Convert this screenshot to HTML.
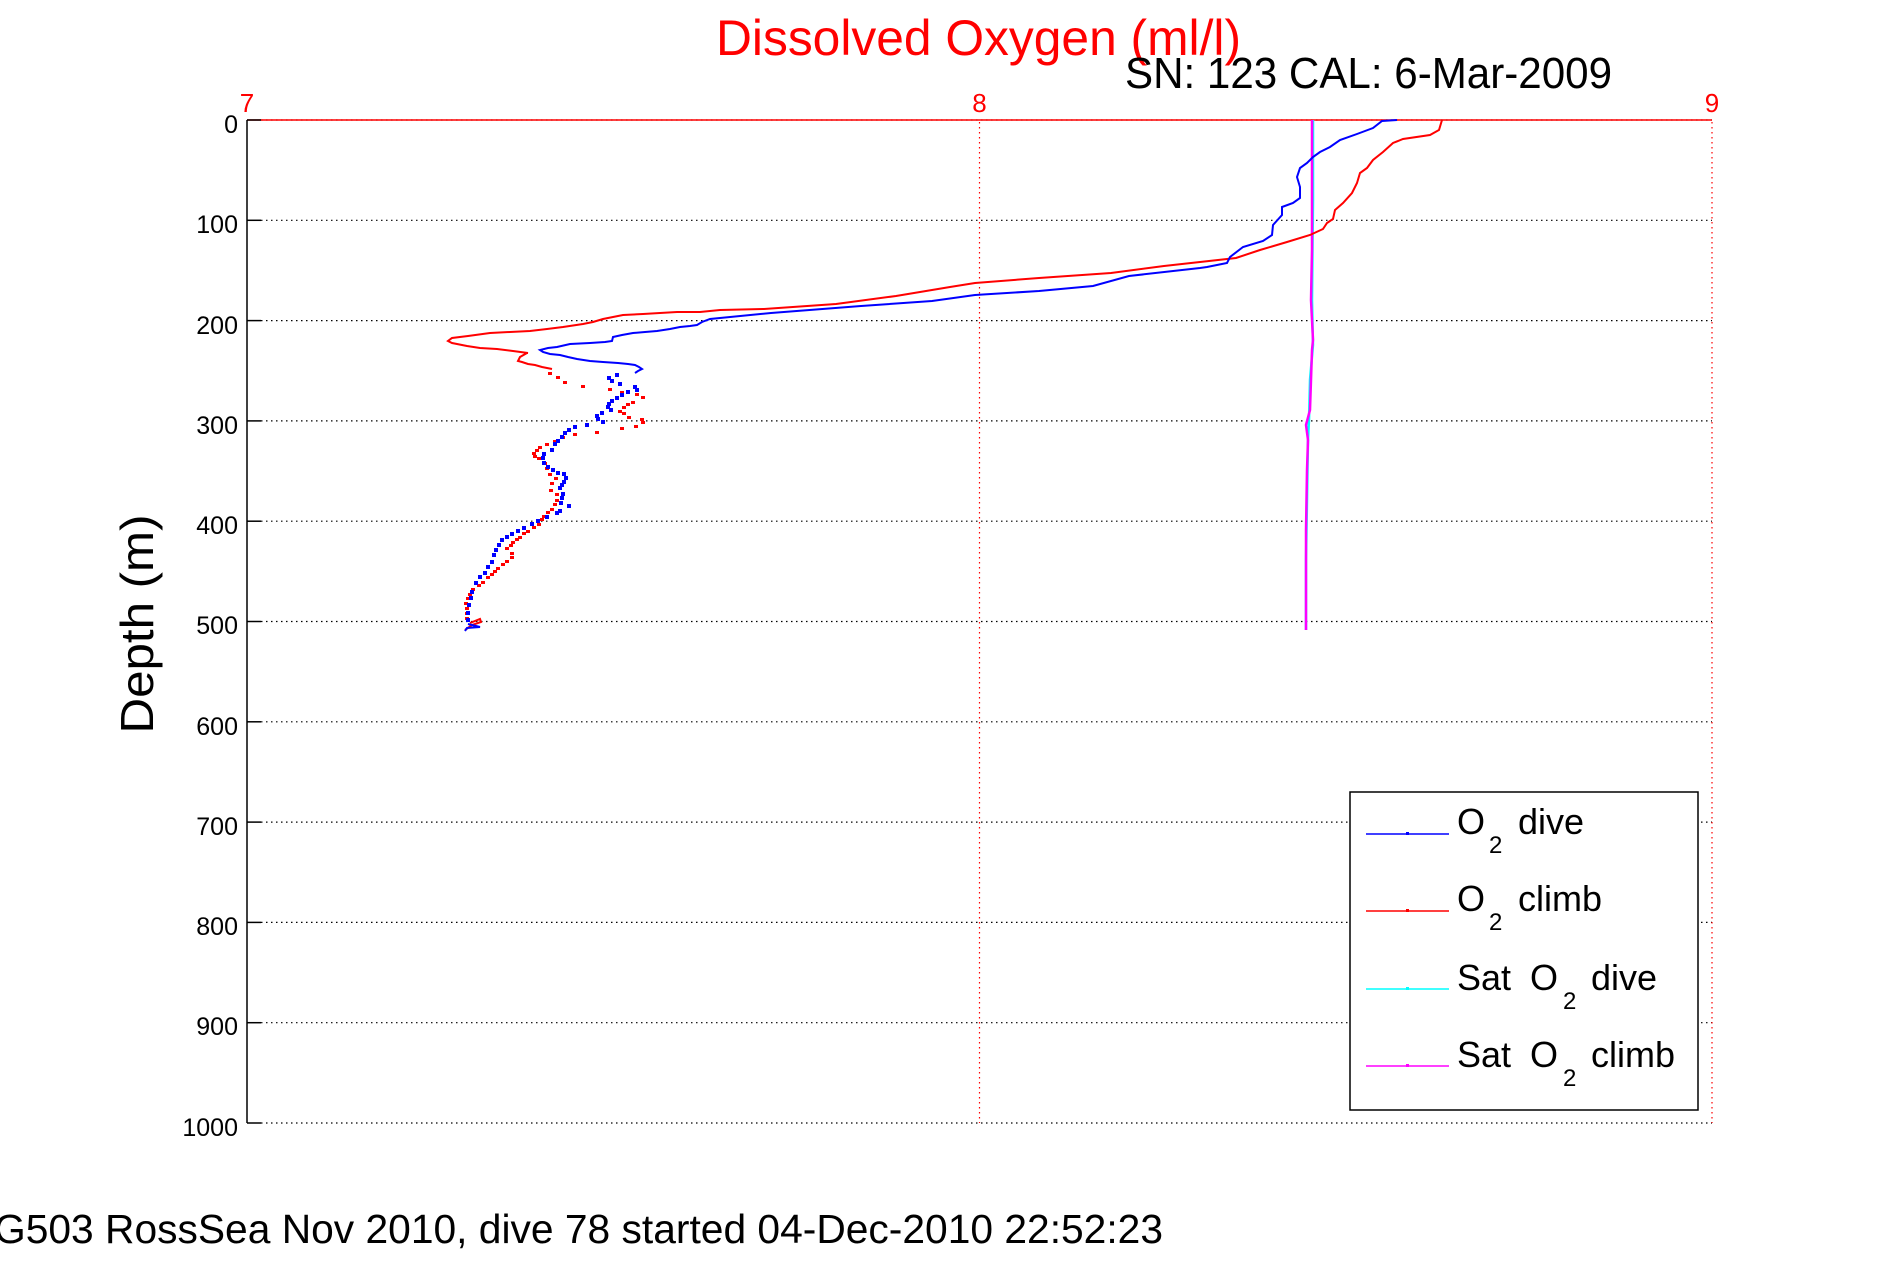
<!DOCTYPE html>
<html><head><meta charset="utf-8"><style>
html,body{margin:0;padding:0;background:#fff;}
svg{display:block;}
text{font-family:"Liberation Sans",Arial,sans-serif;}
</style></head><body>
<svg width="1891" height="1262" viewBox="0 0 1891 1262" xmlns="http://www.w3.org/2000/svg">
<rect width="1891" height="1262" fill="#fff"/>
<!-- grid -->
<g stroke="#000" stroke-width="1.2" stroke-dasharray="1.5,3.5">
<line x1="261" y1="220.3" x2="1712" y2="220.3"/>
<line x1="261" y1="320.6" x2="1712" y2="320.6"/>
<line x1="261" y1="420.9" x2="1712" y2="420.9"/>
<line x1="261" y1="521.2" x2="1712" y2="521.2"/>
<line x1="261" y1="621.5" x2="1712" y2="621.5"/>
<line x1="261" y1="721.8" x2="1712" y2="721.8"/>
<line x1="261" y1="822.1" x2="1712" y2="822.1"/>
<line x1="261" y1="922.4" x2="1712" y2="922.4"/>
<line x1="261" y1="1022.7" x2="1712" y2="1022.7"/>
<line x1="261" y1="1123" x2="1712" y2="1123"/>
<line x1="261" y1="120" x2="1712" y2="120"/>
</g>
<g stroke="#f00" stroke-width="1.2" stroke-dasharray="1.5,3.5">
<line x1="979.5" y1="122" x2="979.5" y2="1123"/>
<line x1="1712" y1="122" x2="1712" y2="1123"/>
</g>
<!-- axes -->
<line x1="247" y1="120" x2="1712" y2="120" stroke="#f00" stroke-width="1.5"/>
<line x1="247" y1="120" x2="247" y2="1123" stroke="#000" stroke-width="1.5"/>
<g stroke="#000" stroke-width="1.5">
<line x1="247" y1="120" x2="261" y2="120"/><line x1="247" y1="220.3" x2="261" y2="220.3"/>
<line x1="247" y1="320.6" x2="261" y2="320.6"/><line x1="247" y1="420.9" x2="261" y2="420.9"/>
<line x1="247" y1="521.2" x2="261" y2="521.2"/><line x1="247" y1="621.5" x2="261" y2="621.5"/>
<line x1="247" y1="721.8" x2="261" y2="721.8"/><line x1="247" y1="822.1" x2="261" y2="822.1"/>
<line x1="247" y1="922.4" x2="261" y2="922.4"/><line x1="247" y1="1022.7" x2="261" y2="1022.7"/>
<line x1="247" y1="1123" x2="261" y2="1123"/>
</g>
<!-- y tick labels -->
<g font-size="25" text-anchor="end" fill="#000">
<text x="238" y="133">0</text><text x="238" y="233">100</text><text x="238" y="334">200</text>
<text x="238" y="434">300</text><text x="238" y="534">400</text><text x="238" y="634">500</text>
<text x="238" y="735">600</text><text x="238" y="835">700</text><text x="238" y="935">800</text>
<text x="238" y="1035">900</text><text x="238" y="1136">1000</text>
</g>
<g font-size="26" text-anchor="middle" fill="#f00">
<text x="247" y="112">7</text><text x="979.5" y="112">8</text><text x="1712" y="112">9</text>
</g>
<!-- titles -->
<text x="716" y="55" font-size="50" fill="#f00" textLength="525" lengthAdjust="spacingAndGlyphs">Dissolved Oxygen (ml/l)</text>
<text x="1125" y="88" font-size="44" fill="#000" textLength="487" lengthAdjust="spacingAndGlyphs">SN: 123  CAL: 6-Mar-2009</text>
<text transform="translate(153,624) rotate(-90)" font-size="46" text-anchor="middle" fill="#000" textLength="219" lengthAdjust="spacingAndGlyphs">Depth (m)</text>
<text x="-6" y="1243" font-size="41" fill="#000" textLength="1169" lengthAdjust="spacingAndGlyphs">G503 RossSea Nov 2010, dive 78 started 04-Dec-2010 22:52:23</text>

<!-- sat lines -->
<polyline fill="none" stroke="#0ff" stroke-width="2.5" points="1313,120 1313,200 1312,300 1313,345 1310,380 1309,420 1308,440 1307,500 1306,560 1306,630"/>
<polyline fill="none" stroke="#f0f" stroke-width="2.5" points="1312,120 1312,250 1311,300 1313,340 1312,350 1311,380 1310,410 1306,425 1308,440 1307,470 1306,530 1306,580 1306,630"/>

<!-- red climb -->
<polyline fill="none" stroke="#f00" stroke-width="2" points="1442,120 1439,130 1430,135 1403,139 1393,143 1383,152 1373,160 1367,168 1360,173 1357,183 1352,193 1343,203 1335,210 1333,219 1327,223 1323,229 1310,235 1287,242 1260,250 1236,258 1164,266 1111,273 1039,278 975,283 950,287 896,296 836,304 764,309 720,310 700,312 677,312 643,314 623,315 613,317 603,319 593,322 583,324 563,327 547,329 530,331 510,332 490,333 468,336 452,338 448,341 452,343 467,346 480,348 497,349 513,351 528,353 527,353 520,357 518,361 522,362 528,364 535,365 542,367 552,369"/>
<g fill="#f00">
<rect x="548" y="372" width="4" height="3"/><rect x="556" y="376" width="4" height="3"/><rect x="563" y="381" width="4" height="3"/><rect x="581" y="385" width="4" height="3"/><rect x="608" y="388" width="4" height="3"/><rect x="620" y="391" width="4" height="3"/><rect x="635" y="393" width="4" height="3"/><rect x="641" y="396" width="4" height="3"/><rect x="631" y="401" width="4" height="3"/><rect x="626" y="403" width="4" height="3"/><rect x="622" y="406" width="4" height="3"/><rect x="618" y="410" width="4" height="3"/><rect x="622" y="412" width="4" height="3"/><rect x="627" y="416" width="4" height="3"/><rect x="640" y="418" width="4" height="3"/><rect x="641" y="421" width="4" height="3"/><rect x="634" y="425" width="4" height="3"/><rect x="620" y="427" width="4" height="3"/><rect x="595" y="431" width="4" height="3"/><rect x="573" y="433" width="4" height="3"/><rect x="561" y="436" width="4" height="3"/><rect x="553" y="440" width="4" height="3"/><rect x="545" y="443" width="4" height="3"/><rect x="538" y="446" width="4" height="3"/><rect x="535" y="449" width="4" height="3"/><rect x="532" y="452" width="4" height="3"/><rect x="533" y="455" width="4" height="3"/><rect x="537" y="457" width="4" height="3"/><rect x="543" y="462" width="4" height="3"/><rect x="545" y="467" width="4" height="3"/><rect x="548" y="473" width="4" height="3"/><rect x="554" y="477" width="4" height="3"/><rect x="550" y="482" width="4" height="3"/><rect x="549" y="489" width="4" height="3"/><rect x="555" y="493" width="4" height="3"/><rect x="555" y="499" width="4" height="3"/><rect x="553" y="503" width="4" height="3"/><rect x="550" y="508" width="4" height="3"/><rect x="546" y="511" width="4" height="3"/><rect x="542" y="515" width="4" height="3"/><rect x="540" y="518" width="4" height="3"/><rect x="537" y="523" width="4" height="3"/><rect x="532" y="526" width="4" height="3"/><rect x="526" y="530" width="4" height="3"/><rect x="522" y="532" width="4" height="3"/><rect x="518" y="536" width="4" height="3"/><rect x="515" y="538" width="4" height="3"/><rect x="511" y="541" width="4" height="3"/><rect x="509" y="544" width="4" height="3"/><rect x="505" y="547" width="4" height="3"/><rect x="510" y="552" width="4" height="3"/><rect x="510" y="556" width="4" height="3"/><rect x="505" y="560" width="4" height="3"/><rect x="501" y="563" width="4" height="3"/><rect x="496" y="567" width="4" height="3"/><rect x="493" y="570" width="4" height="3"/><rect x="490" y="573" width="4" height="3"/><rect x="486" y="576" width="4" height="3"/><rect x="481" y="581" width="4" height="3"/><rect x="477" y="584" width="4" height="3"/><rect x="471" y="588" width="4" height="3"/><rect x="468" y="593" width="4" height="3"/><rect x="466" y="597" width="4" height="3"/><rect x="464" y="602" width="4" height="3"/><rect x="465" y="607" width="4" height="3"/><rect x="465" y="612" width="4" height="3"/><rect x="465" y="617" width="4" height="3"/>
</g>
<polyline fill="none" stroke="#f00" stroke-width="2" points="470,623 480,619 481,622 472,625 465,630"/>

<!-- blue dive -->
<polyline fill="none" stroke="#00f" stroke-width="2" points="1397,120 1382,121 1373,128 1357,134 1340,140 1330,147 1320,152 1313,157 1307,163 1300,168 1297,177 1300,187 1300,198 1293,203 1282,207 1282,215 1273,225 1272,235 1263,241 1243,247 1230,257 1227,263 1207,267 1200,268 1129,276 1093,286 1039,291 975,295 932,301 861,306 771,313 720,318 710,319 702,322 697,325 690,326 680,327 670,329 657,331 645,332 633,333 622,335 613,337 612,341 605,342 590,343 570,344 557,347 548,348 540,350 543,352 550,354 560,355 568,357 577,359 590,361 603,362 618,363 628,364 635,365 639,367 642,369 638,371 635,373"/>
<g fill="#00f">
<rect x="615" y="373" width="4" height="4"/><rect x="607" y="376" width="4" height="4"/><rect x="610" y="379" width="4" height="4"/><rect x="618" y="382" width="4" height="4"/><rect x="633" y="385" width="4" height="4"/><rect x="635" y="388" width="4" height="4"/><rect x="626" y="390" width="4" height="4"/><rect x="620" y="393" width="4" height="4"/><rect x="615" y="396" width="4" height="4"/><rect x="610" y="399" width="4" height="4"/><rect x="607" y="402" width="4" height="4"/><rect x="606" y="405" width="4" height="4"/><rect x="609" y="408" width="4" height="4"/><rect x="600" y="411" width="4" height="4"/><rect x="595" y="414" width="4" height="4"/><rect x="596" y="417" width="4" height="4"/><rect x="601" y="420" width="4" height="4"/><rect x="585" y="423" width="4" height="4"/><rect x="573" y="425" width="4" height="4"/><rect x="567" y="428" width="4" height="4"/><rect x="563" y="431" width="4" height="4"/><rect x="560" y="435" width="4" height="4"/><rect x="556" y="439" width="4" height="4"/><rect x="553" y="442" width="4" height="4"/><rect x="550" y="448" width="4" height="4"/><rect x="542" y="452" width="4" height="4"/><rect x="541" y="456" width="4" height="4"/><rect x="542" y="461" width="4" height="4"/><rect x="546" y="465" width="4" height="4"/><rect x="551" y="468" width="4" height="4"/><rect x="556" y="471" width="4" height="4"/><rect x="562" y="472" width="4" height="4"/><rect x="564" y="476" width="4" height="4"/><rect x="562" y="480" width="4" height="4"/><rect x="560" y="483" width="4" height="4"/><rect x="558" y="486" width="4" height="4"/><rect x="561" y="492" width="4" height="4"/><rect x="560" y="496" width="4" height="4"/><rect x="559" y="501" width="4" height="4"/><rect x="567" y="504" width="4" height="4"/><rect x="558" y="509" width="4" height="4"/><rect x="555" y="511" width="4" height="4"/><rect x="545" y="515" width="4" height="4"/><rect x="536" y="519" width="4" height="4"/><rect x="530" y="522" width="4" height="4"/><rect x="522" y="526" width="4" height="4"/><rect x="516" y="529" width="4" height="4"/><rect x="510" y="532" width="4" height="4"/><rect x="505" y="535" width="4" height="4"/><rect x="500" y="538" width="4" height="4"/><rect x="497" y="543" width="4" height="4"/><rect x="494" y="548" width="4" height="4"/><rect x="492" y="553" width="4" height="4"/><rect x="490" y="560" width="4" height="4"/><rect x="486" y="565" width="4" height="4"/><rect x="483" y="571" width="4" height="4"/><rect x="478" y="575" width="4" height="4"/><rect x="474" y="581" width="4" height="4"/><rect x="470" y="590" width="4" height="4"/><rect x="469" y="596" width="4" height="4"/><rect x="467" y="603" width="4" height="4"/><rect x="466" y="611" width="4" height="4"/><rect x="466" y="618" width="4" height="4"/>
</g>
<polyline fill="none" stroke="#00f" stroke-width="2" points="468,624 480,627 467,628 465,631"/>

<!-- legend -->
<rect x="1350" y="792" width="348" height="318" fill="#fff" stroke="#000" stroke-width="1.5"/>
<g stroke-width="1.5">
<line x1="1366" y1="834" x2="1449" y2="834" stroke="#00f"/>
<line x1="1366" y1="911" x2="1449" y2="911" stroke="#f00"/>
<line x1="1366" y1="989" x2="1449" y2="989" stroke="#0ff"/>
<line x1="1366" y1="1066" x2="1449" y2="1066" stroke="#f0f"/>
</g>
<rect x="1406" y="832" width="3" height="3" fill="#00f"/>
<rect x="1406" y="909" width="3" height="3" fill="#f00"/>
<rect x="1406" y="987" width="3" height="3" fill="#0ff"/>
<rect x="1406" y="1064" width="3" height="3" fill="#f0f"/>
<g font-size="36" fill="#000">
<text x="1457" y="834">O</text><text x="1489" y="853" font-size="24">2</text><text x="1518" y="834">dive</text>
<text x="1457" y="911">O</text><text x="1489" y="930" font-size="24">2</text><text x="1518" y="911">climb</text>
<text x="1457" y="990">Sat</text><text x="1530" y="990">O</text><text x="1563" y="1009" font-size="24">2</text><text x="1591" y="990">dive</text>
<text x="1457" y="1067">Sat</text><text x="1530" y="1067">O</text><text x="1563" y="1086" font-size="24">2</text><text x="1591" y="1067">climb</text>
</g>
</svg>
</body></html>
